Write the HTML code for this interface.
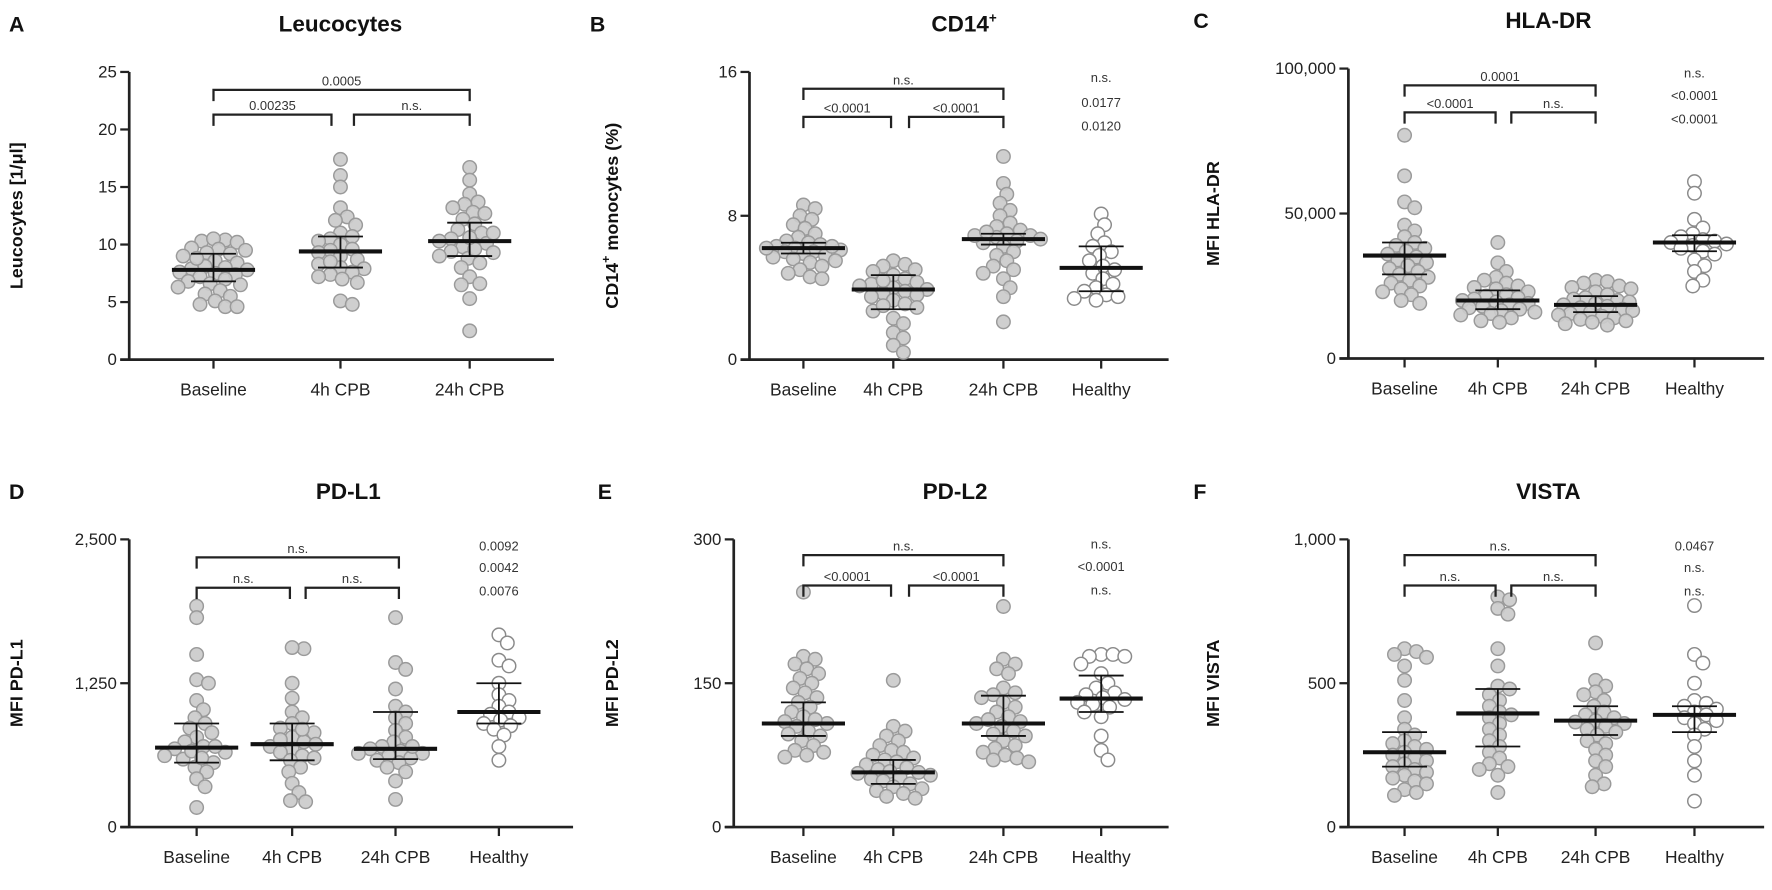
<!DOCTYPE html>
<html><head><meta charset="utf-8"><style>
html,body{margin:0;padding:0;background:#fff;}
svg{display:block;font-family:"Liberation Sans",Arial,sans-serif;}
</style></head><body>
<svg id="fig" width="1772" height="890" viewBox="0 0 1577 792" xmlns="http://www.w3.org/2000/svg"></svg>
<script>
// ---------- DATA ----------
const catsA = ["Baseline","4h CPB","24h CPB"];
const cats4 = ["Baseline","4h CPB","24h CPB","Healthy"];

const aBaseline=[10.4,10.3,10.5,10.2,9.6,9.5,9.7,9.3,9.0,9.2,8.6,8.4,8.1,8.0,7.9,7.8,7.6,7.5,7.4,7.2,7.0,6.8,6.6,6.5,6.3,6.0,5.7,5.5,5.1,4.8,4.6,4.6,8.8];
const a4h=[17.4,16.0,15.0,13.2,12.4,12.1,11.7,11.0,10.7,10.5,10.3,10.0,9.6,9.5,9.3,9.0,8.7,8.3,8.0,7.9,7.6,7.4,7.2,7.0,6.7,5.1,4.8,8.5];
const a24h=[16.7,15.6,14.4,13.7,13.5,13.2,12.8,12.7,12.2,11.8,11.3,11.0,10.5,10.3,10.1,9.8,9.4,9.3,9.0,8.8,8.4,8.0,7.2,6.6,6.5,5.3,2.5,11.0,9.6,10.6];
const aMed=[7.8,9.4,10.3], aQ1=[6.8,8.0,9.0], aQ3=[9.2,10.7,11.9];

const bBaseline=[8.6,8.4,8.0,7.8,7.5,7.3,7.0,6.8,6.6,6.5,6.4,6.3,6.2,6.1,6.0,6.0,5.9,5.8,5.7,5.6,5.5,5.4,5.2,5.0,4.8,4.6,4.5,6.2,6.3];
const b4h=[5.5,5.3,5.2,5.0,4.9,4.7,4.5,4.3,4.2,4.1,4.0,3.9,3.8,3.7,3.6,3.5,3.3,3.1,2.9,2.7,2.3,2.0,1.5,1.2,0.8,0.4,4.4,3.0];
const b24h=[11.3,9.8,9.2,8.7,8.3,8.0,7.6,7.4,7.2,7.0,6.9,6.8,6.7,6.6,6.5,6.3,6.0,5.8,5.5,5.2,5.0,4.8,4.5,4.0,3.5,2.1,6.9,7.1];
const bHealthy=[8.1,7.5,7.0,6.5,6.3,6.0,5.8,5.5,5.2,5.0,4.8,4.5,4.2,4.0,3.8,3.6,3.5,3.4,3.3];
const bMed=[6.2,3.9,6.7,5.1], bQ1=[5.9,2.8,6.4,3.8], bQ3=[6.5,4.7,7.0,6.3];

const cBaseline=[77000,63000,54000,52000,46000,44000,42000,40000,39000,38000,37000,36000,35000,34000,33000,32000,31000,30000,29000,28000,27000,26000,25000,24000,23000,22000,20000,19000];
const c4h=[40000,33000,30000,28000,27000,26000,25000,24500,24000,23000,22000,21500,21000,20500,20000,19500,19000,18500,18000,17500,17000,16500,16000,15500,15000,14000,13000,12500];
const c24h=[27000,26500,26000,25000,24500,24000,23000,22000,21000,20500,20000,19500,19000,18500,18000,17500,17000,16500,16000,15500,15000,14500,14000,13500,13000,12500,12000,11500];
const cHealthy=[61000,57000,48000,45000,43000,42000,41000,40500,40000,39500,39000,38000,37000,36000,34000,32000,30000,27000,25000];
const cMed=[35500,20000,18500,40000], cQ1=[29000,17000,16000,37000], cQ3=[40000,23500,21500,42500];

const dBaseline=[1920,1820,1500,1280,1250,1100,1020,950,900,860,820,780,740,700,680,650,620,590,560,520,480,420,350,170,660,600,700];
const d4h=[1550,1560,1250,1120,1000,950,900,860,820,780,740,720,700,680,650,620,600,580,520,480,380,300,230,220,850,760];
const d24h=[1820,1430,1370,1200,1050,1000,950,900,840,780,740,700,680,660,640,620,600,580,560,520,480,400,240,640,700];
const dHealthy=[1670,1600,1450,1400,1250,1150,1100,1050,1000,980,950,930,900,880,850,800,700,580];
const dMed=[690,720,680,1000], dQ1=[560,580,590,900], dQ3=[900,900,1000,1250];

const eBaseline=[245,178,175,170,165,160,155,150,145,140,135,130,125,120,115,110,105,100,97,95,90,85,80,78,75,73,108,112];
const e4h=[153,105,100,95,90,85,80,78,75,72,70,68,65,62,60,58,56,54,52,50,48,45,42,40,38,35,32,30,57];
const e24h=[230,175,170,165,160,145,140,138,135,130,125,120,115,110,108,105,100,97,95,90,85,82,78,75,72,70,68,112];
const eHealthy=[180,178,180,178,170,160,150,145,140,138,135,133,130,128,125,120,115,95,80,70];
const eMed=[108,57,108,134], eQ1=[95,45,95,120], eQ3=[130,70,137,158];

const fBaseline=[620,610,600,590,560,510,440,380,340,320,300,290,280,270,260,250,240,230,220,210,200,190,180,170,160,150,130,120,110];
const f4h=[800,790,760,740,620,560,490,480,460,440,420,400,390,380,360,340,320,300,280,260,240,220,210,200,180,120];
const f24h=[640,510,490,470,460,440,420,400,390,380,370,365,360,350,340,330,320,300,290,270,250,230,210,180,150,140];
const fHealthy=[770,600,570,500,440,430,420,410,400,390,380,370,360,340,320,280,230,180,90];
const fMed=[260,395,370,390], fQ1=[210,280,320,330], fQ3=[330,480,420,420];

const ticksA=["0","5","10","15","20","25"], tickValsA=[0,5,10,15,20,25];
const ticksB=["0","8","16"], tickValsB=[0,8,16];
const ticksC=["0","50,000","100,000"], tickValsC=[0,50000,100000];
const ticksD=["0","1,250","2,500"], tickValsD=[0,1250,2500];
const ticksE=["0","150","300"], tickValsE=[0,150,300];
const ticksF=["0","500","1,000"], tickValsF=[0,500,1000];

// ---------- LAYOUT ----------
const NS="http://www.w3.org/2000/svg";
const svg=document.getElementById('fig');
function mk(tag,attrs,parent){const e=document.createElementNS(NS,tag);for(const k in attrs)e.setAttribute(k,attrs[k]);(parent||svg).appendChild(e);return e;}

const panels=[
 {id:'a',letter:'A',lx:8,title:'Leucocytes',ytitle:'Leucocytes [1/\u03bcl]',ax:115,ax2:493,y0:320,yTop:64,max:25,cx:[190,303,418],tx:303,ytx:20,
  cats:catsA,groups:[aBaseline,a4h,a24h],med:aMed,q1:aQ1,q3:aQ3,ticks:ticksA,tv:tickValsA,
  br:[[0,2,80,'0.0005'],[0,1,102,'0.00235'],[1,2,102,'n.s.']],brOff:[[0,0],[0,-8],[12,0]],hl:[]},
 {id:'b',letter:'B',lx:525,title:'CD14',sup:'+',ytitle:'CD14',ysup:'+',ytitleRest:' monocytes (%)',ax:667,ax2:1040,y0:320,yTop:64,max:16,cx:[715,795,893,980],tx:858,ytx:550,
  cats:cats4,groups:[bBaseline,b4h,b24h,bHealthy],med:bMed,q1:bQ1,q3:bQ3,ticks:ticksB,tv:tickValsB,
  br:[[0,2,79,'n.s.'],[0,1,104,'<0.0001'],[1,2,104,'<0.0001']],brOff:[[0,0],[0,-2],[14,0]],hl:['n.s.','0.0177','0.0120'],hly:[73,95,116]},
 {id:'c',letter:'C',lx:1062,title:'HLA-DR',ytitle:'MFI HLA-DR',ax:1200,ax2:1570,y0:319,yTop:61,max:100000,cx:[1250,1333,1420,1508],tx:1378,ytx:1085,
  cats:cats4,groups:[cBaseline,c4h,c24h,cHealthy],med:cMed,q1:cQ1,q3:cQ3,ticks:ticksC,tv:tickValsC,
  br:[[0,2,76,'0.0001'],[0,1,100,'<0.0001'],[1,2,100,'n.s.']],brOff:[[0,0],[0,-2],[12,0]],hl:['n.s.','<0.0001','<0.0001'],hly:[69,89,110]},
 {id:'d',letter:'D',lx:8,title:'PD-L1',ytitle:'MFI PD-L1',ax:115,ax2:510,y0:736,yTop:480,max:2500,cx:[175,260,352,444],tx:310,ytx:20,
  cats:cats4,groups:[dBaseline,d4h,d24h,dHealthy],med:dMed,q1:dQ1,q3:dQ3,ticks:ticksD,tv:tickValsD,
  br:[[0,2,496,'n.s.'],[0,1,523,'n.s.'],[1,2,523,'n.s.']],brOff:[[0,3],[0,-2],[12,3]],hl:['0.0092','0.0042','0.0076'],hly:[490,509,530]},
 {id:'e',letter:'E',lx:532,title:'PD-L2',ytitle:'MFI PD-L2',ax:653,ax2:1040,y0:736,yTop:480,max:300,cx:[715,795,893,980],tx:850,ytx:550,
  cats:cats4,groups:[eBaseline,e4h,e24h,eHealthy],med:eMed,q1:eQ1,q3:eQ3,ticks:ticksE,tv:tickValsE,
  br:[[0,2,494,'n.s.'],[0,1,521,'<0.0001'],[1,2,521,'<0.0001']],brOff:[[0,0],[0,-2],[14,0]],hl:['n.s.','<0.0001','n.s.'],hly:[488,508,529]},
 {id:'f',letter:'F',lx:1062,title:'VISTA',ytitle:'MFI VISTA',ax:1200,ax2:1570,y0:736,yTop:480,max:1000,cx:[1250,1333,1420,1508],tx:1378,ytx:1085,
  cats:cats4,groups:[fBaseline,f4h,f24h,fHealthy],med:fMed,q1:fQ1,q3:fQ3,ticks:ticksF,tv:tickValsF,
  br:[[0,2,494,'n.s.'],[0,1,521,'n.s.'],[1,2,521,'n.s.']],brOff:[[0,0],[0,-2],[12,0]],hl:['0.0467','n.s.','n.s.'],hly:[490,509,530]}
];

function swarm(vals,yfn,cx,minD,maxDx){
  const order=vals.map((v,i)=>i).sort((a,b)=>vals[b]-vals[a]);
  const placed=[];const res=new Array(vals.length);
  order.forEach(i=>{
    const y=yfn(vals[i]);let best=0,bestScore=-1;
    for(let k=0;k<200;k++){
      const dx=(k%2?1:-1)*Math.ceil(k/2)*1.5;
      if(Math.abs(dx)>maxDx)break;
      let md=1e9;placed.forEach(p=>{const d=Math.hypot(p.x-(cx+dx),p.y-y);if(d<md)md=d;});
      if(md>=minD){best=dx;bestScore=1e9;break;}
      if(md>bestScore){bestScore=md;best=dx;}
    }
    placed.push({x:cx+best,y:y});res[i]={x:cx+best,y:y};
  });
  return res;
}

panels.forEach(p=>{
  const g=mk('g',{});
  
  
  const yS=v=>p.y0-(v/p.max)*(p.y0-p.yTop);
  const L=mk('text',{x:p.lx,y:p.yTop-36,'font-size':19,'font-weight':'bold',fill:'#111'},g);
  L.textContent=p.letter;
  
  
  const T=mk('text',{x:p.tx,y:p.yTop-36,'font-size':20,'font-weight':'bold','text-anchor':'middle',fill:'#111'},g);
  T.textContent=p.title;
  if(p.sup){const s=mk('tspan',{'font-size':12,dy:-8},T);s.textContent=p.sup;}
  
  
  const yc=(p.y0+p.yTop)/2;
  const YT=mk('text',{x:p.ytx,y:yc,'font-size':16,'font-weight':'bold','text-anchor':'middle',fill:'#111',transform:`rotate(-90 ${p.ytx} ${yc})`},g);
  YT.textContent=p.ytitle;
  if(p.ysup){const s=mk('tspan',{'font-size':11,dy:-7},YT);s.textContent=p.ysup;const r=mk('tspan',{dy:7},YT);r.textContent=p.ytitleRest;}
  
  
  const ya=mk('line',{x1:p.ax,y1:p.yTop,x2:p.ax,y2:p.y0,stroke:'#222','stroke-width':2.4},g);
  
  
  const xa=mk('line',{x1:p.ax-8,y1:p.y0,x2:p.ax2,y2:p.y0,stroke:'#222','stroke-width':2.4},g);
  
  
  p.tv.forEach((v,i)=>{
    const y=yS(v);
    mk('line',{x1:p.ax-8,y1:y,x2:p.ax,y2:y,stroke:'#222','stroke-width':2},g);
    const t=mk('text',{x:p.ax-11,y:y+5,'font-size':15,'text-anchor':'end',fill:'#222'},g);
    t.textContent=p.ticks[i];
    
    
  });
  p.cats.forEach((c,i)=>{
    mk('line',{x1:p.cx[i],y1:p.y0,x2:p.cx[i],y2:p.y0+8,stroke:'#222','stroke-width':2},g);
    const t=mk('text',{x:p.cx[i],y:p.y0+32,'font-size':15.5,'text-anchor':'middle',fill:'#222'},g);
    t.textContent=c;
    
    
  });
  p.groups.forEach((vals,gi)=>{
    const pts=swarm(vals,yS,p.cx[gi],10,34);
    const healthy=p.cats[gi]==='Healthy';
    pts.forEach(pt=>{
      const c=mk('circle',{cx:pt.x,cy:pt.y,r:6,fill:healthy?'#fff':'#cbcbcb','fill-opacity':healthy?1:0.92,stroke:healthy?'#8a8a8a':'#9a9a9a','stroke-width':1.3},g);
      
      
    });
  });
  p.groups.forEach((vals,gi)=>{
    const x=p.cx[gi];
    const ym=yS(p.med[gi]),y1=yS(p.q1[gi]),y3=yS(p.q3[gi]);
    mk('line',{x1:x,y1:y1,x2:x,y2:y3,stroke:'#111','stroke-width':1.6},g);
    mk('line',{x1:x-20,y1:y1,x2:x+20,y2:y1,stroke:'#111','stroke-width':1.6},g);
    mk('line',{x1:x-20,y1:y3,x2:x+20,y2:y3,stroke:'#111','stroke-width':1.6},g);
    const m=mk('line',{x1:x-37,y1:ym,x2:x+37,y2:ym,stroke:'#111','stroke-width':3.6},g);
    
    
  });
  p.br.forEach((b,bi)=>{
    const xa1=p.cx[b[0]]+p.brOff[bi][0], xa2=p.cx[b[1]]+p.brOff[bi][1], y=b[2];
    const br=mk('path',{d:`M${xa1} ${y+10}V${y}H${xa2}V${y+10}`,fill:'none',stroke:'#222','stroke-width':2},g);
    
    
    const t=mk('text',{x:(xa1+xa2)/2,y:y-4,'font-size':11.5,'text-anchor':'middle',fill:'#333'},g);
    t.textContent=b[3];
    
    
  });
  p.hl.forEach((s,i)=>{
    const t=mk('text',{x:p.cx[3],y:p.hly[i],'font-size':11.5,'text-anchor':'middle',fill:'#333'},g);
    t.textContent=s;
    
    
  });
});
</script>
</body></html>
